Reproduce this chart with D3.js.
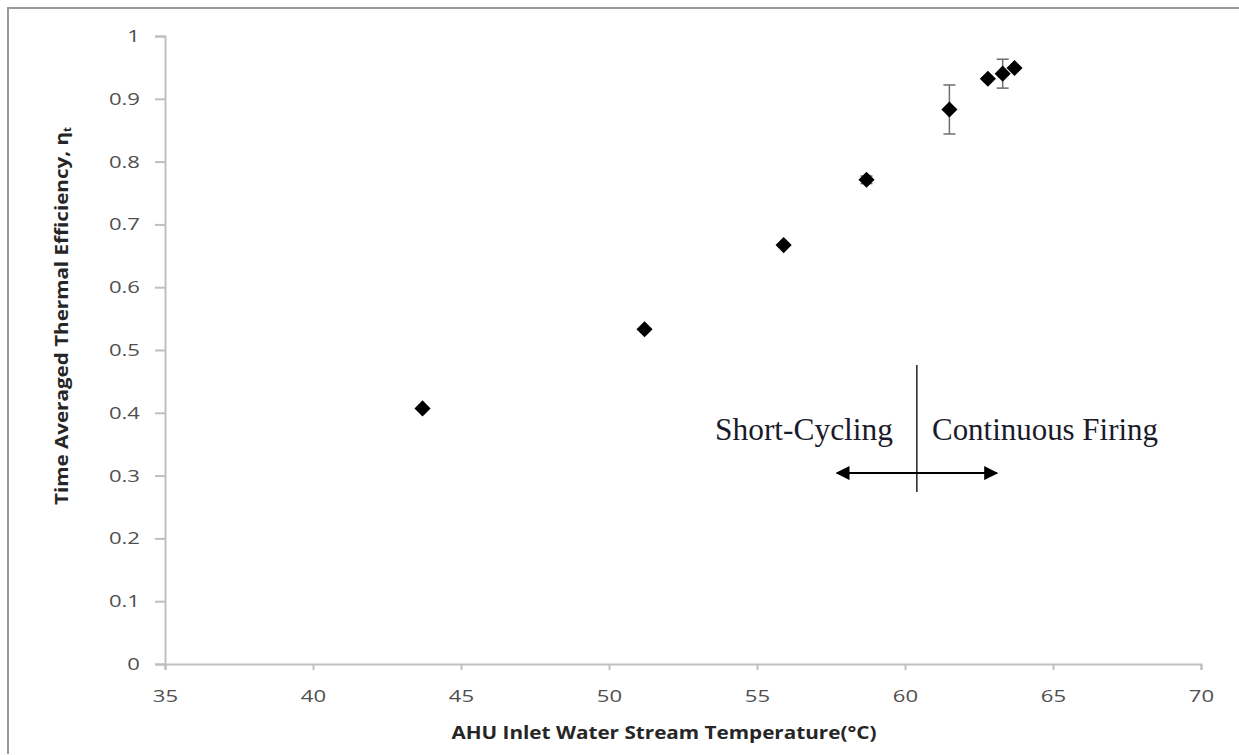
<!DOCTYPE html>
<html>
<head>
<meta charset="utf-8">
<script src="https://cdn.jsdelivr.net/npm/d3@7"></script>
<style>
  body { margin: 0; background: #fff; }
  svg { display: block; }
</style>
</head>
<body>
<svg width="1239" height="755"></svg>
<script>
// data
const temps = [43.7, 51.2, 55.9, 58.7, 61.5, 62.8, 63.3, 63.7]
const effs = [0.407, 0.533, 0.667, 0.771, 0.883, 0.932, 0.940, 0.949]
const errs = [0, 0, 0, 0.006, 0.039, 0, 0.023, 0]
const xTicks = [35, 40, 45, 50, 55, 60, 65, 70]
const yTicks = [0, 0.1, 0.2, 0.3, 0.4, 0.5, 0.6, 0.7, 0.8, 0.9, 1]

const divider = {x: 60.4, y0: 0.274, y1: 0.476}
const arrow = {y: 0.304, x0: 57.7, x1: 63.1}

const svg = d3.select('svg')
const margin = {top: 36, right: 38, bottom: 91, left: 165}
const width = 1239 - margin.left - margin.right
const height = 755 - margin.top - margin.bottom

// the source picture is stretched sideways, so widen text to match
function stretch (sel, k) {
  sel.each(function () {
    const w = this.getComputedTextLength()
    d3.select(this).attr('textLength', w * k).attr('lengthAdjust', 'spacingAndGlyphs')
  })
}

// outer frame
svg.append('path')
  .attr('d', 'M8,754 V8 H1239')
  .attr('fill', 'none')
  .attr('stroke', '#9a9a9a')
  .attr('stroke-width', 2)

const g = svg.append('g').attr('transform', 'translate(' + margin.left + ',' + margin.top + ')')

const x = d3.scaleLinear().domain([35, 70]).range([0, width])
const y = d3.scaleLinear().domain([0, 1]).range([height, 0])

const xAxis = g.append('g')
  .attr('transform', 'translate(0,' + height + ')')
  .call(d3.axisBottom(x).tickValues(xTicks).tickSize(6).tickPadding(20).tickFormat(d3.format('d')))

const yAxis = g.append('g')
  .call(d3.axisLeft(y).tickValues(yTicks).tickSize(10).tickPadding(15).tickFormat(d => d === 0 || d === 1 ? d : d3.format('.1f')(d)))

;[xAxis, yAxis].forEach(a => {
  a.select('.domain').attr('stroke', '#bfbfbf').attr('stroke-width', 2)
  a.selectAll('.tick line').attr('stroke', '#bfbfbf').attr('stroke-width', 2)
  a.selectAll('.tick text')
    .attr('fill', '#4f4f4f')
    .style('font-family', 'Open Sans, sans-serif')
    .style('font-size', '17px')
  stretch(a.selectAll('.tick text'), 1.3)
})

// error bars
const pts = temps.map((t, i) => ({t: t, e: effs[i], err: errs[i]}))
const eb = g.append('g').selectAll('g')
  .data(pts.filter(d => d.err > 0))
  .enter().append('g')
  .attr('stroke', '#6e6e6e')
  .attr('stroke-width', 1.5)
eb.append('line')
  .attr('x1', d => x(d.t)).attr('x2', d => x(d.t))
  .attr('y1', d => y(d.e - d.err)).attr('y2', d => y(d.e + d.err))
eb.append('line')
  .attr('x1', d => x(d.t) - 6).attr('x2', d => x(d.t) + 6)
  .attr('y1', d => y(d.e + d.err)).attr('y2', d => y(d.e + d.err))
eb.append('line')
  .attr('x1', d => x(d.t) - 6).attr('x2', d => x(d.t) + 6)
  .attr('y1', d => y(d.e - d.err)).attr('y2', d => y(d.e - d.err))

// diamond markers
g.append('g').selectAll('path')
  .data(pts)
  .enter().append('path')
  .attr('d', d3.symbol().type(d3.symbolSquare).size(130))
  .attr('transform', d => 'translate(' + x(d.t) + ',' + y(d.e) + ') rotate(45)')
  .attr('fill', '#000')

// divider annotation
svg.append('defs').append('marker')
  .attr('id', 'head')
  .attr('viewBox', '0 0 10 10')
  .attr('refX', 9).attr('refY', 5)
  .attr('markerWidth', 7).attr('markerHeight', 7)
  .attr('markerUnits', 'strokeWidth')
  .attr('orient', 'auto-start-reverse')
  .append('path').attr('d', 'M0,0 L10,5 L0,10 z').attr('fill', '#000')

g.append('line')
  .attr('x1', x(divider.x)).attr('x2', x(divider.x))
  .attr('y1', y(divider.y0)).attr('y2', y(divider.y1))
  .attr('stroke', '#222').attr('stroke-width', 1.5)

g.append('line')
  .attr('x1', x(arrow.x0)).attr('x2', x(arrow.x1))
  .attr('y1', y(arrow.y)).attr('y2', y(arrow.y))
  .attr('stroke', '#000').attr('stroke-width', 2)
  .attr('marker-start', 'url(#head)')
  .attr('marker-end', 'url(#head)')

g.append('text')
  .attr('x', 728).attr('y', 404)
  .attr('text-anchor', 'end')
  .style('font-family', 'Liberation Serif, serif')
  .style('font-size', '31px')
  .attr('fill', '#1a1a2a')
  .attr('textLength', 178)
  .attr('lengthAdjust', 'spacingAndGlyphs')
  .text('Short-Cycling')

g.append('text')
  .attr('x', 767).attr('y', 404)
  .attr('text-anchor', 'start')
  .style('font-family', 'Liberation Serif, serif')
  .style('font-size', '31px')
  .attr('fill', '#1a1a2a')
  .attr('textLength', 226)
  .attr('lengthAdjust', 'spacingAndGlyphs')
  .text('Continuous Firing')

// axis titles
svg.append('text')
  .attr('x', 664).attr('y', 739)
  .attr('text-anchor', 'middle')
  .style('font-family', 'Open Sans, sans-serif')
  .style('font-weight', 'bold')
  .style('font-size', '18px')
  .attr('fill', '#262626')
  .attr('textLength', 425)
  .attr('lengthAdjust', 'spacingAndGlyphs')
  .text('AHU Inlet Water Stream Temperature(°C)')

const yl = svg.append('text')
  .attr('transform', 'translate(68,316) rotate(-90)')
  .attr('text-anchor', 'middle')
  .style('font-family', 'Open Sans, sans-serif')
  .style('font-weight', 'bold')
  .style('font-size', '18px')
  .attr('fill', '#262626')
  .attr('textLength', 378)
  .attr('lengthAdjust', 'spacingAndGlyphs')
yl.append('tspan').text('Time Averaged Thermal Efficiency, η')
yl.append('tspan').attr('dy', 3).style('font-size', '10px').text('t')
</script>
</body>
</html>
